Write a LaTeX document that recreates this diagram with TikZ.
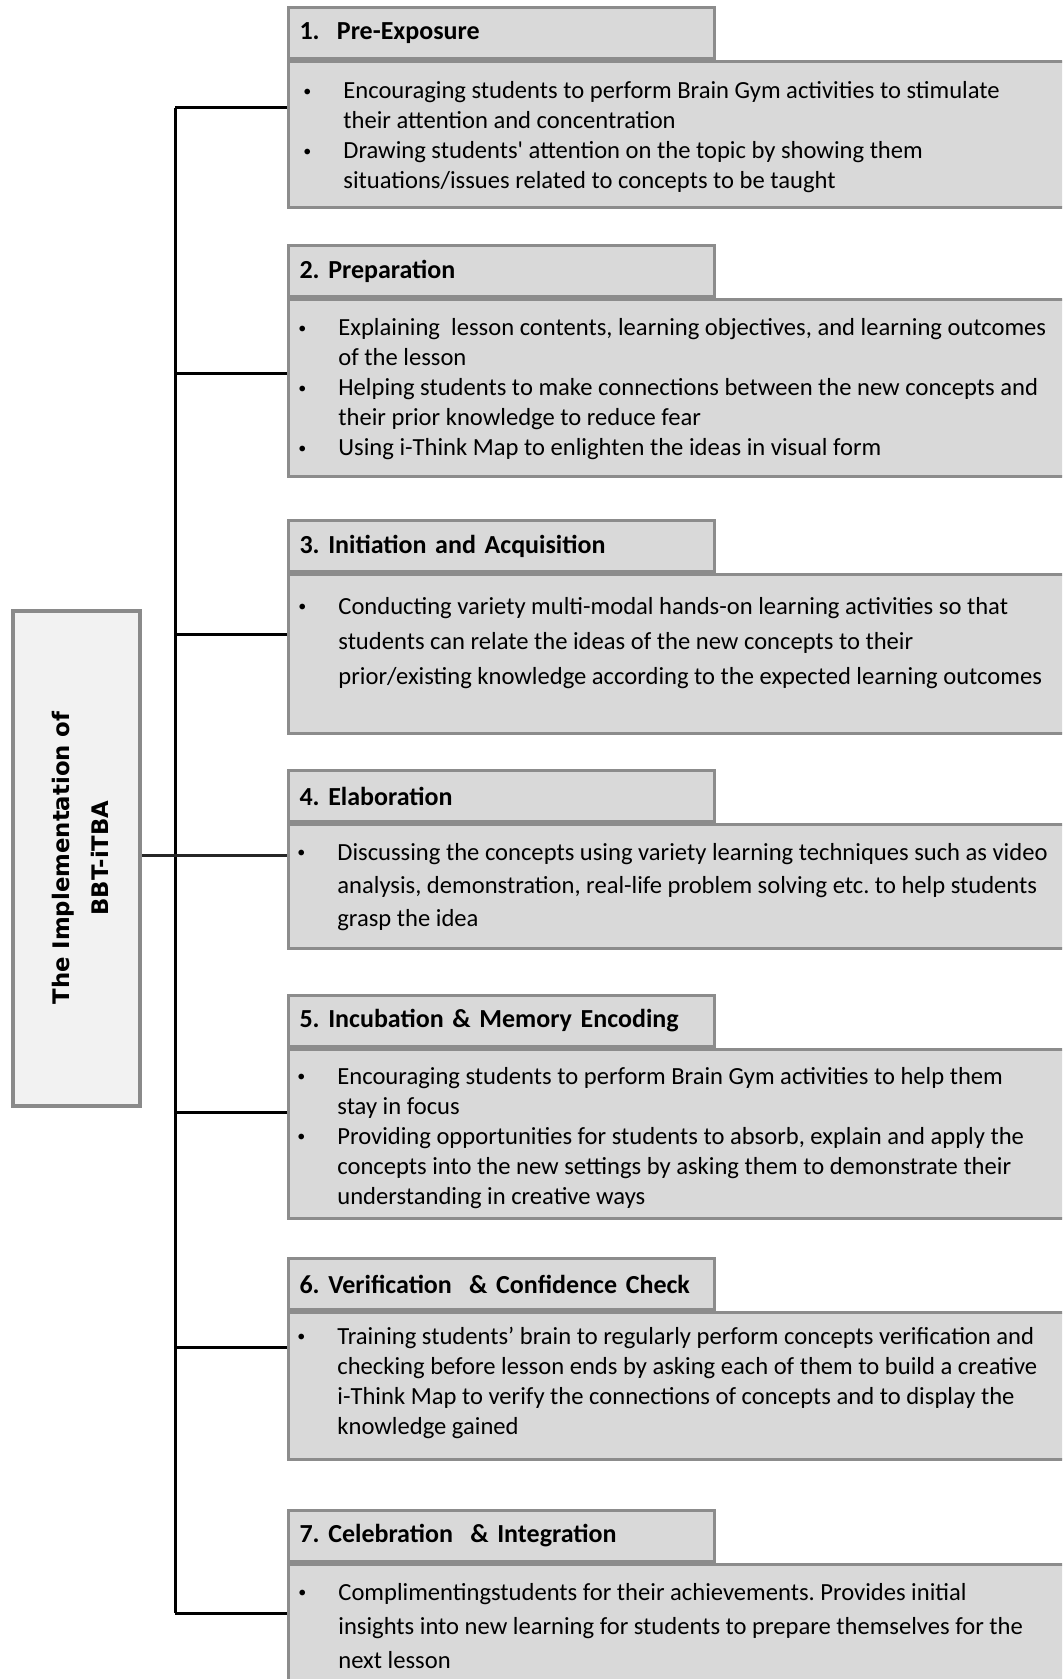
\documentclass[tikz,border=0pt]{standalone}
\usepackage{fontspec}
\setmainfont{Carlito}
\newfontfamily\rootfont{DejaVu Sans}
\usetikzlibrary{positioning}
\frenchspacing

\definecolor{boxfill}{HTML}{D9D9D9}
\definecolor{boxline}{HTML}{8C8C8C}
\definecolor{rootfill}{HTML}{F2F2F2}
\definecolor{rootline}{HTML}{8A8A8A}

\newcommand{\dotmark}{\raisebox{1.2pt}{\fontsize{8}{8}\selectfont\textbullet}}
\newcommand{\pointlist}[1]{\begin{tabular}[t]{@{}p{20pt}@{}l@{}}#1\end{tabular}}

\begin{document}
\begin{tikzpicture}[x=0.5pt,y=-0.5pt,
  stage/.style={rectangle,draw=boxline,fill=boxfill,line width=1.5pt,anchor=north west,minimum width=420pt,inner sep=0pt},
  head/.style={rectangle,draw=boxline,fill=boxfill,line width=1.5pt,minimum height=25.5pt,text width=202pt,inner xsep=5.5pt,inner ysep=0pt,align=left,font=\bfseries\fontsize{13}{15}\selectfont},
  notes/.style={anchor=base west,inner sep=0pt,font=\fontsize{12.3}{#1}\selectfont},
  link/.style={line width=1.5pt,black}]

\useasboundingbox (0,0) rectangle (1062,1679);
\clip (0,0) rectangle (1062,1679);

% root box
\node[draw=rootline,fill=rootfill,line width=2pt,minimum width=63.5pt,minimum height=247.5pt,inner sep=0pt] (root) at (76.5,858.5) {};
\node[rotate=90,align=center,font=\rootfont\bfseries\fontsize{11.4}{19.5}\selectfont] (rootlabel) at (80,858) {The Implementation of\\BBT-iTBA};

% stage bodies
\node[stage,minimum height=73pt]   (b1) at (287,60)   {};
\node[stage,minimum height=88.5pt] (b2) at (287,298)  {};
\node[stage,minimum height=79.5pt] (b3) at (287,573)  {};
\node[stage,minimum height=62pt]   (b4) at (287,823)  {};
\node[stage,minimum height=84.5pt] (b5) at (287,1048) {};
\node[stage,minimum height=73.5pt] (b6) at (287,1311) {};
\node[stage,minimum height=80pt]   (b7) at (287,1563) {};

% stage headers
\node[head,above right=0pt of b1.north west] (h1) {1.\ \ Pre-Exposure};
\node[head,above right=0pt of b2.north west] (h2) {2. Preparation};
\node[head,above right=0pt of b3.north west] (h3) {3. Initiation and Acquisition};
\node[head,above right=0pt of b4.north west] (h4) {4. Elaboration};
\node[head,above right=0pt of b5.north west] (h5) {5. Incubation \& Memory Encoding};
\node[head,above right=0pt of b6.north west] (h6) {6. Verification \ \& Confidence Check};
\node[head,above right=0pt of b7.north west] (h7) {7. Celebration \ \& Integration};

% stage notes
\node[notes=15] (n1) at (303,99) {\pointlist{%
 \dotmark & Encouraging students to perform Brain Gym activities to stimulate\\
  & their attention and concentration\\
 \dotmark & Drawing students\textquotesingle\ attention on the topic by showing them\\
  & situations/issues related to concepts to be taught}};
\node[notes=15] (n2) at (298,336) {\pointlist{%
 \dotmark & Explaining \ lesson contents, learning objectives, and learning outcomes\\
  & of the lesson\\
 \dotmark & Helping students to make connections between the new concepts and\\
  & their prior knowledge to reduce fear\\
 \dotmark & Using i-Think Map to enlighten the ideas in visual form}};
\node[notes=17.5] (n3) at (298,614) {\pointlist{%
 \dotmark & Conducting variety multi-modal hands-on learning activities so that\\
  & students can relate the ideas of the new concepts to their\\
  & prior/existing knowledge according to the expected learning outcomes}};
\node[notes=16.5] (n4) at (297,860) {\pointlist{%
 \dotmark & Discussing the concepts using variety learning techniques such as video\\
  & analysis, demonstration, real-life problem solving etc. to help students\\
  & grasp the idea}};
\node[notes=15] (n5) at (297,1084) {\pointlist{%
 \dotmark & Encouraging students to perform Brain Gym activities to help them\\
  & stay in focus\\
 \dotmark & Providing opportunities for students to absorb, explain and apply the\\
  & concepts into the new settings by asking them to demonstrate their\\
  & understanding in creative ways}};
\node[notes=15] (n6) at (297,1344) {\pointlist{%
 \dotmark & Training students’ brain to regularly perform concepts verification and\\
  & checking before lesson ends by asking each of them to build a creative\\
  & i-Think Map to verify the connections of concepts and to display the\\
  & knowledge gained}};
\node[notes=17] (n7) at (298,1600) {\pointlist{%
 \dotmark & Complimentingstudents for their achievements. Provides initial\\
  & insights into new learning for students to prepare themselves for the\\
  & next lesson}};

% tree
\coordinate (t1) at (175,108);
\coordinate (t2) at (175,374);
\coordinate (t3) at (175,634);
\coordinate (t4) at (175,855);
\coordinate (t5) at (175,1112);
\coordinate (t6) at (175,1347);
\coordinate (t7) at (175,1613);

\draw[link] (t1) -- (t7);
\draw[link] (t1) -- (b1.west |- t1);
\draw[link] (t2) -- (b2.west |- t2);
\draw[link] (t3) -- (b3.west |- t3);
\draw[link,black!85] (root.east |- t4) -- (b4.west |- t4);
\draw[link] (t5) -- (b5.west |- t5);
\draw[link] (t6) -- (b6.west |- t6);
\draw[link] (t7) -- (b7.west |- t7);

\end{tikzpicture}
\end{document}
